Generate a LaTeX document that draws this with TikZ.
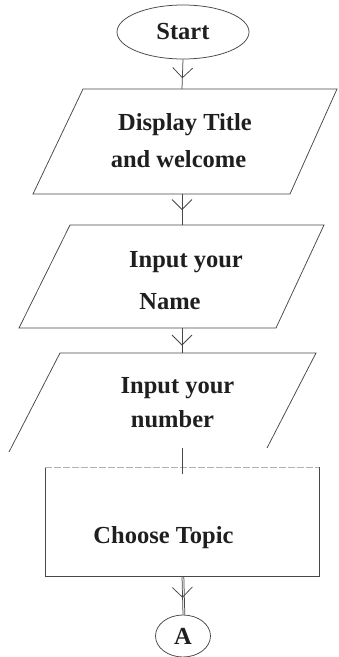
\documentclass[tikz,border=0pt]{standalone}
\usepackage{fontspec}
\setmainfont{Liberation Serif}
\usetikzlibrary{shapes.geometric,decorations.markings}
\begin{document}
\begin{tikzpicture}[x=1pt,y=-1pt,
  line/.style={draw=black!72, line width=0.75pt},
  faint/.style={draw=black!30, line width=0.6pt, dash pattern=on 7pt off 2pt},
  txt/.style={text=black!88, font=\fontsize{24.5}{28}\selectfont\bfseries},
  lbl/.style={txt, anchor=base, inner sep=0pt},
  term/.style={line, txt, ellipse, inner sep=0pt},
  vmark/.style={postaction={decorate}, decoration={markings,
    mark=at position #1 with {\draw[draw=black!72,line width=0.75pt] (-10pt,-10pt) -- (0pt,0pt) -- (-10pt,10pt);}}},
  vmark/.default=0.5]
\useasboundingbox (0,0) rectangle (339,657);
\fill[white] (0,0) rectangle (339,657);

% Start
\node[term, minimum width=132pt, minimum height=54pt] (start) at (183,32) {Start};

% Display Title and welcome
\coordinate (p1tl) at (83,89);
\coordinate (p1tr) at (337,89);
\coordinate (p1br) at (290,194);
\coordinate (p1bl) at (33,194);
\coordinate (p1top) at (182,89);
\coordinate (p1bot) at (182,194);
\draw[line] (p1tl) -- (p1tr) -- (p1br) -- (p1bl) -- cycle;
\node[lbl] (t1a) at (185,130) {Display Title};
\node[lbl] (t1b) at (178.5,167) {and welcome};

% Input your Name
\coordinate (p2tl) at (70,225);
\coordinate (p2tr) at (324,225);
\coordinate (p2br) at (276,328);
\coordinate (p2bl) at (19,328);
\coordinate (p2top) at (182,225);
\coordinate (p2bot) at (182,328);
\draw[line] (p2tl) -- (p2tr) -- (p2br) -- (p2bl) -- cycle;
\node[lbl] (t2a) at (186,267) {Input your};
\node[lbl] (t2b) at (170,309) {Name};

% Input your number (bottom edge missing)
\coordinate (p3tl) at (60,353);
\coordinate (p3tr) at (316,353);
\coordinate (p3br) at (267,448);
\coordinate (p3bl) at (9,452);
\coordinate (p3top) at (182,353);
\coordinate (p3bot) at (182,448);
\draw[line] (p3bl) -- (p3tl) -- (p3tr) -- (p3br);
\node[lbl] (t3a) at (177.5,393) {Input your};
\node[lbl] (t3b) at (172.5,427) {number};

% Choose Topic
\coordinate (rtl) at (45,467);
\coordinate (rtr) at (319,467);
\coordinate (rbr) at (319,576);
\coordinate (rbl) at (45,576);
\coordinate (rtop) at (182,467);
\coordinate (rbot) at (182,576);
\draw[line] (rtl) -- (rbl) -- (rbr) -- (rtr);
\draw[faint] (rtl) -- (rtr);
\node[lbl] (t4) at (163.5,543) {Choose Topic};

% Connector A
\node[term, minimum width=55pt, minimum height=42pt] (A) at (183,636) {A};

% Connectors
\coordinate (c4end) at (182,474);
\draw[line, vmark=0.62] (start.south) -- (p1top);
\draw[line, vmark=0.5] (p1bot) -- (p2top);
\draw[line, vmark=0.68] (p2bot) -- (p3top);
\draw[line] (p3bot) -- (c4end);
\draw[line, vmark=0.55] (rbot) -- (A.north);
\draw[line] ([xshift=1.8pt]rbot) -- ([xshift=1.8pt]A.north);
\end{tikzpicture}
\end{document}
